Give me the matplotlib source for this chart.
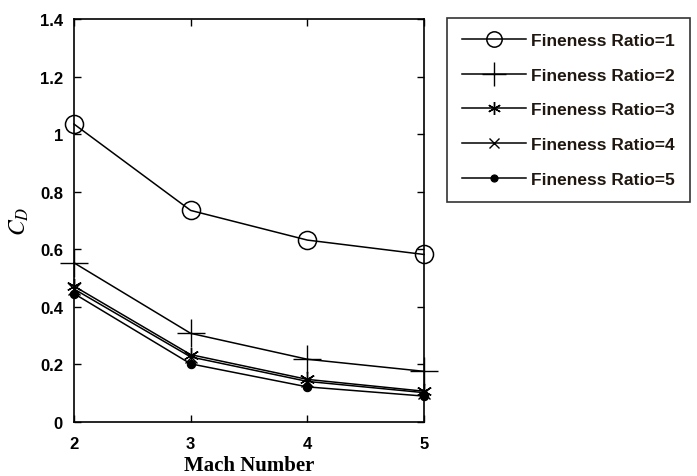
import matplotlib
matplotlib.use("Agg")
import matplotlib.pyplot as plt

plt.rcParams["mathtext.fontset"] = "stix"

mach = [2, 3, 4, 5]
cd_fr1 = [1.035, 0.735, 0.632, 0.582]
cd_fr2 = [0.553, 0.308, 0.218, 0.176]
cd_fr3 = [0.472, 0.234, 0.148, 0.107]
cd_fr4 = [0.462, 0.226, 0.141, 0.102]
cd_fr5 = [0.446, 0.202, 0.122, 0.090]
labels = ["Fineness Ratio=1", "Fineness Ratio=2", "Fineness Ratio=3",
          "Fineness Ratio=4", "Fineness Ratio=5"]
yticks = [0, 0.2, 0.4, 0.6, 0.8, 1, 1.2, 1.4]
yticklabels = ["0", "0.2", "0.4", "0.6", "0.8", "1", "1.2", "1.4"]

fig = plt.figure(figsize=(6.97, 4.77), dpi=100)
ax = fig.add_axes([74 / 697, 1 - 423 / 477, 350 / 697, 403 / 477])

series = [cd_fr1, cd_fr2, cd_fr3, cd_fr4, cd_fr5]
styles = [
    dict(marker="o", ms=13, mfc="none", mew=1.1),
    dict(marker="+", ms=20, mew=1.0),
    dict(marker=(6, 2, 0), ms=11, mew=1.0),
    dict(marker="x", ms=8, mew=1.0),
    dict(marker="o", ms=6, mfc="black", mew=0.8),
]
for y, lab, st in zip(series, labels, styles):
    ax.plot(mach, y, color="black", lw=1.1, label=lab, clip_on=False, **st)

ax.set_xlim(2, 5)
ax.set_ylim(0, 1.4)
ax.set_xticks(mach)
ax.set_yticks(yticks)
ax.set_yticklabels(yticklabels)
ax.tick_params(direction="in", top=True, right=True, length=5, width=1,
               labelsize=12)
ax.tick_params(axis="x", pad=10)
ax.tick_params(axis="y", pad=8)
for t in ax.get_xticklabels() + ax.get_yticklabels():
    t.set_fontweight("bold")
    t.set_family("Liberation Sans")
for s in ax.spines.values():
    s.set_linewidth(1.2)

ax.set_xlabel("Mach Number", family="Liberation Serif", fontweight="bold",
              fontsize=15, labelpad=3)
ax.set_ylabel(r"$C_D$", fontsize=17, labelpad=6)

leg = ax.legend(loc="upper left", bbox_to_anchor=(447 / 697, 1 - 19 / 477),
                bbox_transform=fig.transFigure, frameon=True, fancybox=False,
                edgecolor="black", handlelength=3.7, labelspacing=1.13,
                borderpad=0.85, borderaxespad=0, handletextpad=0.3,
                markerscale=0.85,
                prop=dict(family="Liberation Sans", weight="bold", size=12.5))
leg.get_frame().set_linewidth(1.2)
for t in leg.get_texts():
    t.set_color("#201810")

plt.savefig("out.png", dpi=100)
